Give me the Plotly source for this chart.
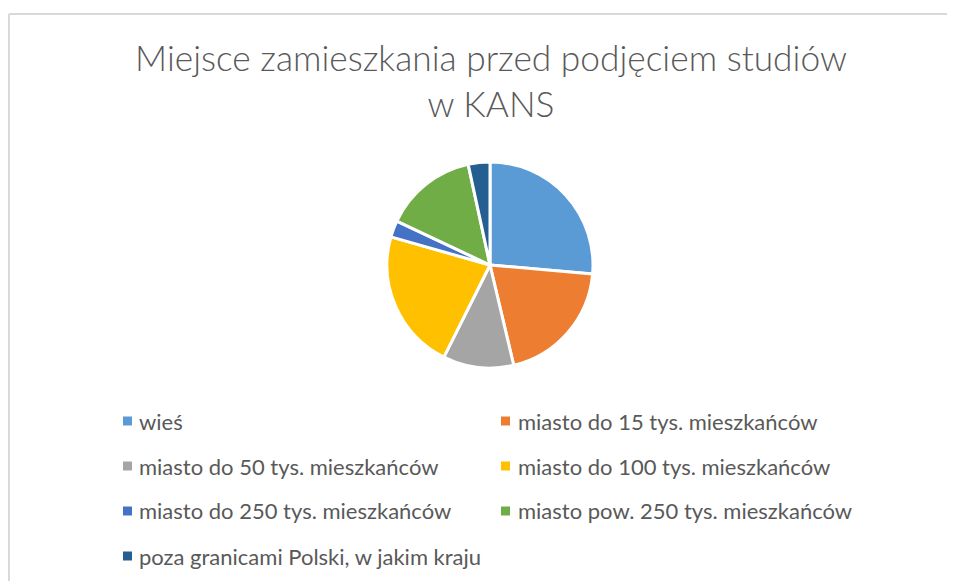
import plotly.graph_objects as go

# page body has an 8px margin: the figure starts at (8, 8) of the window
OFF = 8
W, H = 955 - OFF, 581 - OFF

title_text = "Miejsce zamieszkania przed podjęciem studiów<br>w KANS"
labels = [
    "wieś",
    "miasto do 15 tys. mieszkańców",
    "miasto do 50 tys. mieszkańców",
    "miasto do 100 tys. mieszkańców",
    "miasto do 250 tys. mieszkańców",
    "miasto pow. 250 tys. mieszkańców",
    "poza granicami Polski, w jakim kraju",
]
values = [26.4, 19.9, 11.1, 22.0, 2.6, 14.6, 3.4]
colors = ["#5B9BD5", "#ED7D31", "#A5A5A5", "#FFC000", "#4472C4", "#70AD47", "#255E91"]

FONT = "Lato"
TXT = "#595959"

def px(x):
    # x given in window pixels
    return (x - OFF) / W

def py(y):
    # y given in window pixels
    return 1 - (y - OFF) / H

fig = go.Figure()
fig.add_trace(go.Pie(
    labels=labels,
    values=values,
    sort=False,
    direction="clockwise",
    rotation=0,
    marker=dict(colors=colors, line=dict(color="white", width=3)),
    textinfo="none",
    hoverinfo="label+percent",
    showlegend=False,
    domain=dict(x=[px(387), px(593)], y=[py(368), py(162)]),
))

shapes = [
    dict(type="line", xref="paper", yref="paper", x0=px(9), x1=1.0, y0=py(14), y1=py(14),
         line=dict(color="#D9D9D9", width=2)),
    dict(type="line", xref="paper", yref="paper", x0=px(9), x1=px(9), y0=py(14), y1=0,
         line=dict(color="#D9D9D9", width=2)),
]
annotations = []

col_marker_x = [123, 501]
col_text_x = [137, 516]
row_y = [421, 466, 511, 556]
for i, (lab, col) in enumerate(zip(labels, colors)):
    c, r = i % 2, i // 2
    mx, my = col_marker_x[c], row_y[r]
    shapes.append(dict(type="rect", xref="paper", yref="paper",
                       x0=px(mx), x1=px(mx + 9), y0=py(my + 4.5), y1=py(my - 4.5),
                       fillcolor=col, line=dict(width=0)))
    annotations.append(dict(text=lab, xref="paper", yref="paper",
                            x=px(col_text_x[c]), y=py(my), xanchor="left", yanchor="middle",
                            showarrow=False, font=dict(family=FONT, size=22, color=TXT)))

fig.update_layout(
    width=W, height=H,
    margin=dict(l=0, r=0, t=0, b=0),
    paper_bgcolor="white",
    plot_bgcolor="white",
    title=dict(text=title_text, x=px(491), xanchor="center", y=py(71), yanchor="top",
               font=dict(family=FONT, size=35.3, color=TXT, weight=300)),
    shapes=shapes,
    annotations=annotations,
)

fig.write_html("out.html")
